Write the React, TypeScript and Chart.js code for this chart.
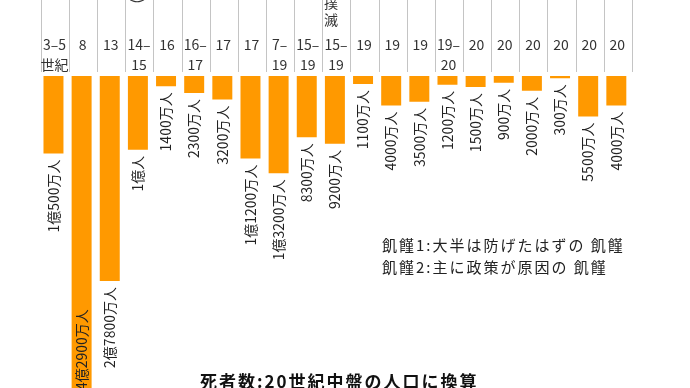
import React, { useEffect, useRef } from "react";
import { Chart, registerables } from "chart.js";

Chart.register(...registerables);

// 死者数（万人）
const categories: string[][] = [
  ["3–5", "世紀"], ["8"], ["13"], ["14–", "15"], ["16"], ["16–", "17"], ["17"], ["17"],
  ["7–", "19"], ["15–", "19"], ["15–", "19"], ["19"], ["19"], ["19"], ["19–", "20"],
  ["20"], ["20"], ["20"], ["20"], ["20"], ["20"],
];
const deaths: number[] = [
  10500, 42900, 27800, 10000, 1400, 2300, 3200, 11200, 13200, 8300, 9200,
  1100, 4000, 3500, 1200, 1500, 900, 2000, 300, 5500, 4000,
];
const valueLabels: string[] = [
  "1億500万人", "4億2900万人", "2億7800万人", "1億人", "1400万人", "2300万人", "3200万人",
  "1億1200万人", "1億3200万人", "8300万人", "9200万人", "1100万人", "4000万人", "3500万人",
  "1200万人", "1500万人", "900万人", "2000万人", "300万人", "5500万人", "4000万人",
];
// 上部の縦書き（見切れ部分）
const topParenIndex = 3;
const topVertical: { index: number; chars: string[] }[] = [{ index: 10, chars: ["撲", "滅"] }];
const legendLines: string[] = ["飢饉1:大半は防げたはずの 飢饉", "飢饉2:主に政策が原因の 飢饉"];
const footnote = "死者数:20世紀中盤の人口に換算";

const FONT = '"Noto Sans CJK JP", "Noto Sans", sans-serif';

const overlay = {
  id: "overlay",
  afterDatasetsDraw(chart: any) {
    const ctx = chart.ctx as CanvasRenderingContext2D;
    const xs = chart.scales.x;
    const ys = chart.scales.y;
    const area = chart.chartArea;
    const meta = chart.getDatasetMeta(0);
    const colW = xs.getPixelForValue(1) - xs.getPixelForValue(0);
    ctx.save();
    // column separators
    ctx.strokeStyle = "#c4c4c4";
    ctx.lineWidth = 1;
    for (let i = 0; i <= categories.length; i++) {
      const x = Math.round(xs.getPixelForValue(0) - colW / 2 + i * colW + 1.5) + 0.5;
      ctx.beginPath();
      ctx.moveTo(x, 0);
      ctx.lineTo(x, 72);
      ctx.stroke();
    }
    // category headers
    ctx.fillStyle = "#333";
    ctx.font = `14px ${FONT}`;
    ctx.textAlign = "center";
    ctx.textBaseline = "middle";
    categories.forEach((lines, i) => {
      const x = xs.getPixelForValue(i) + 1;
      lines.forEach((t, j) => ctx.fillText(t, x, 45 + j * 20));
    });
    topVertical.forEach((v) => {
      const x = xs.getPixelForValue(v.index) - 4;
      v.chars.forEach((c, j) => ctx.fillText(c, x, 20 - (v.chars.length - 1 - j) * 17));
    });
    // vertical closing paren (rotated)
    ctx.save();
    ctx.translate(xs.getPixelForValue(topParenIndex), 1);
    ctx.rotate(Math.PI / 2);
    ctx.fillText(")", 0, 0);
    ctx.restore();
    // value labels (rotated)
    ctx.fillStyle = "#222";
    ctx.font = `14px ${FONT}`;
    meta.data.forEach((bar: any, i: number) => {
      const clipped = deaths[i] > ys.max;
      ctx.save();
      if (clipped) {
        ctx.translate(bar.x, area.bottom + 2);
        ctx.rotate(-Math.PI / 2);
        ctx.textAlign = "left";
      } else {
        ctx.translate(bar.x, bar.y + 6);
        ctx.rotate(-Math.PI / 2);
        ctx.textAlign = "right";
      }
      ctx.textBaseline = "middle";
      ctx.fillText(valueLabels[i], 0, 0);
      ctx.restore();
    });
    // legend notes
    ctx.fillStyle = "#222";
    ctx.font = `15px ${FONT}`;
    (ctx as any).letterSpacing = "2px";
    ctx.textAlign = "left";
    ctx.textBaseline = "middle";
    legendLines.forEach((t, j) => ctx.fillText(t, 382, 245 + j * 22));
    // footnote
    ctx.font = `bold 17px ${FONT}`;
    (ctx as any).letterSpacing = "2px";
    ctx.fillStyle = "#111";
    ctx.fillText(footnote, 200, 382);
    ctx.restore();
  },
};

export default function App() {
  const ref = useRef<HTMLCanvasElement>(null);
  useEffect(() => {
    document.body.style.margin = "0";
    const chart = new Chart(ref.current!, {
      type: "bar",
      data: {
        labels: categories.map((c) => c.join("")),
        datasets: [
          {
            data: deaths,
            backgroundColor: "#ff9900",
            borderWidth: 0,
            categoryPercentage: 1,
            barPercentage: 0.71,
          },
        ],
      },
      options: {
        animation: false,
        responsive: false,
        maintainAspectRatio: false,
        layout: { padding: { left: 39.4, right: 59.6, top: 76, bottom: 0 } },
        plugins: { legend: { display: false }, tooltip: { enabled: false } },
        scales: {
          x: { display: false },
          y: { display: false, min: 0, max: 42300, reverse: true },
        },
      },
      plugins: [overlay],
    });
    return () => chart.destroy();
  }, []);
  return (
    <div style={{ position: "fixed", left: 0, top: 0, width: 690, height: 388, background: "#fff" }}>
      <canvas ref={ref} width={690} height={388} style={{ display: "block" }} />
    </div>
  );
}
